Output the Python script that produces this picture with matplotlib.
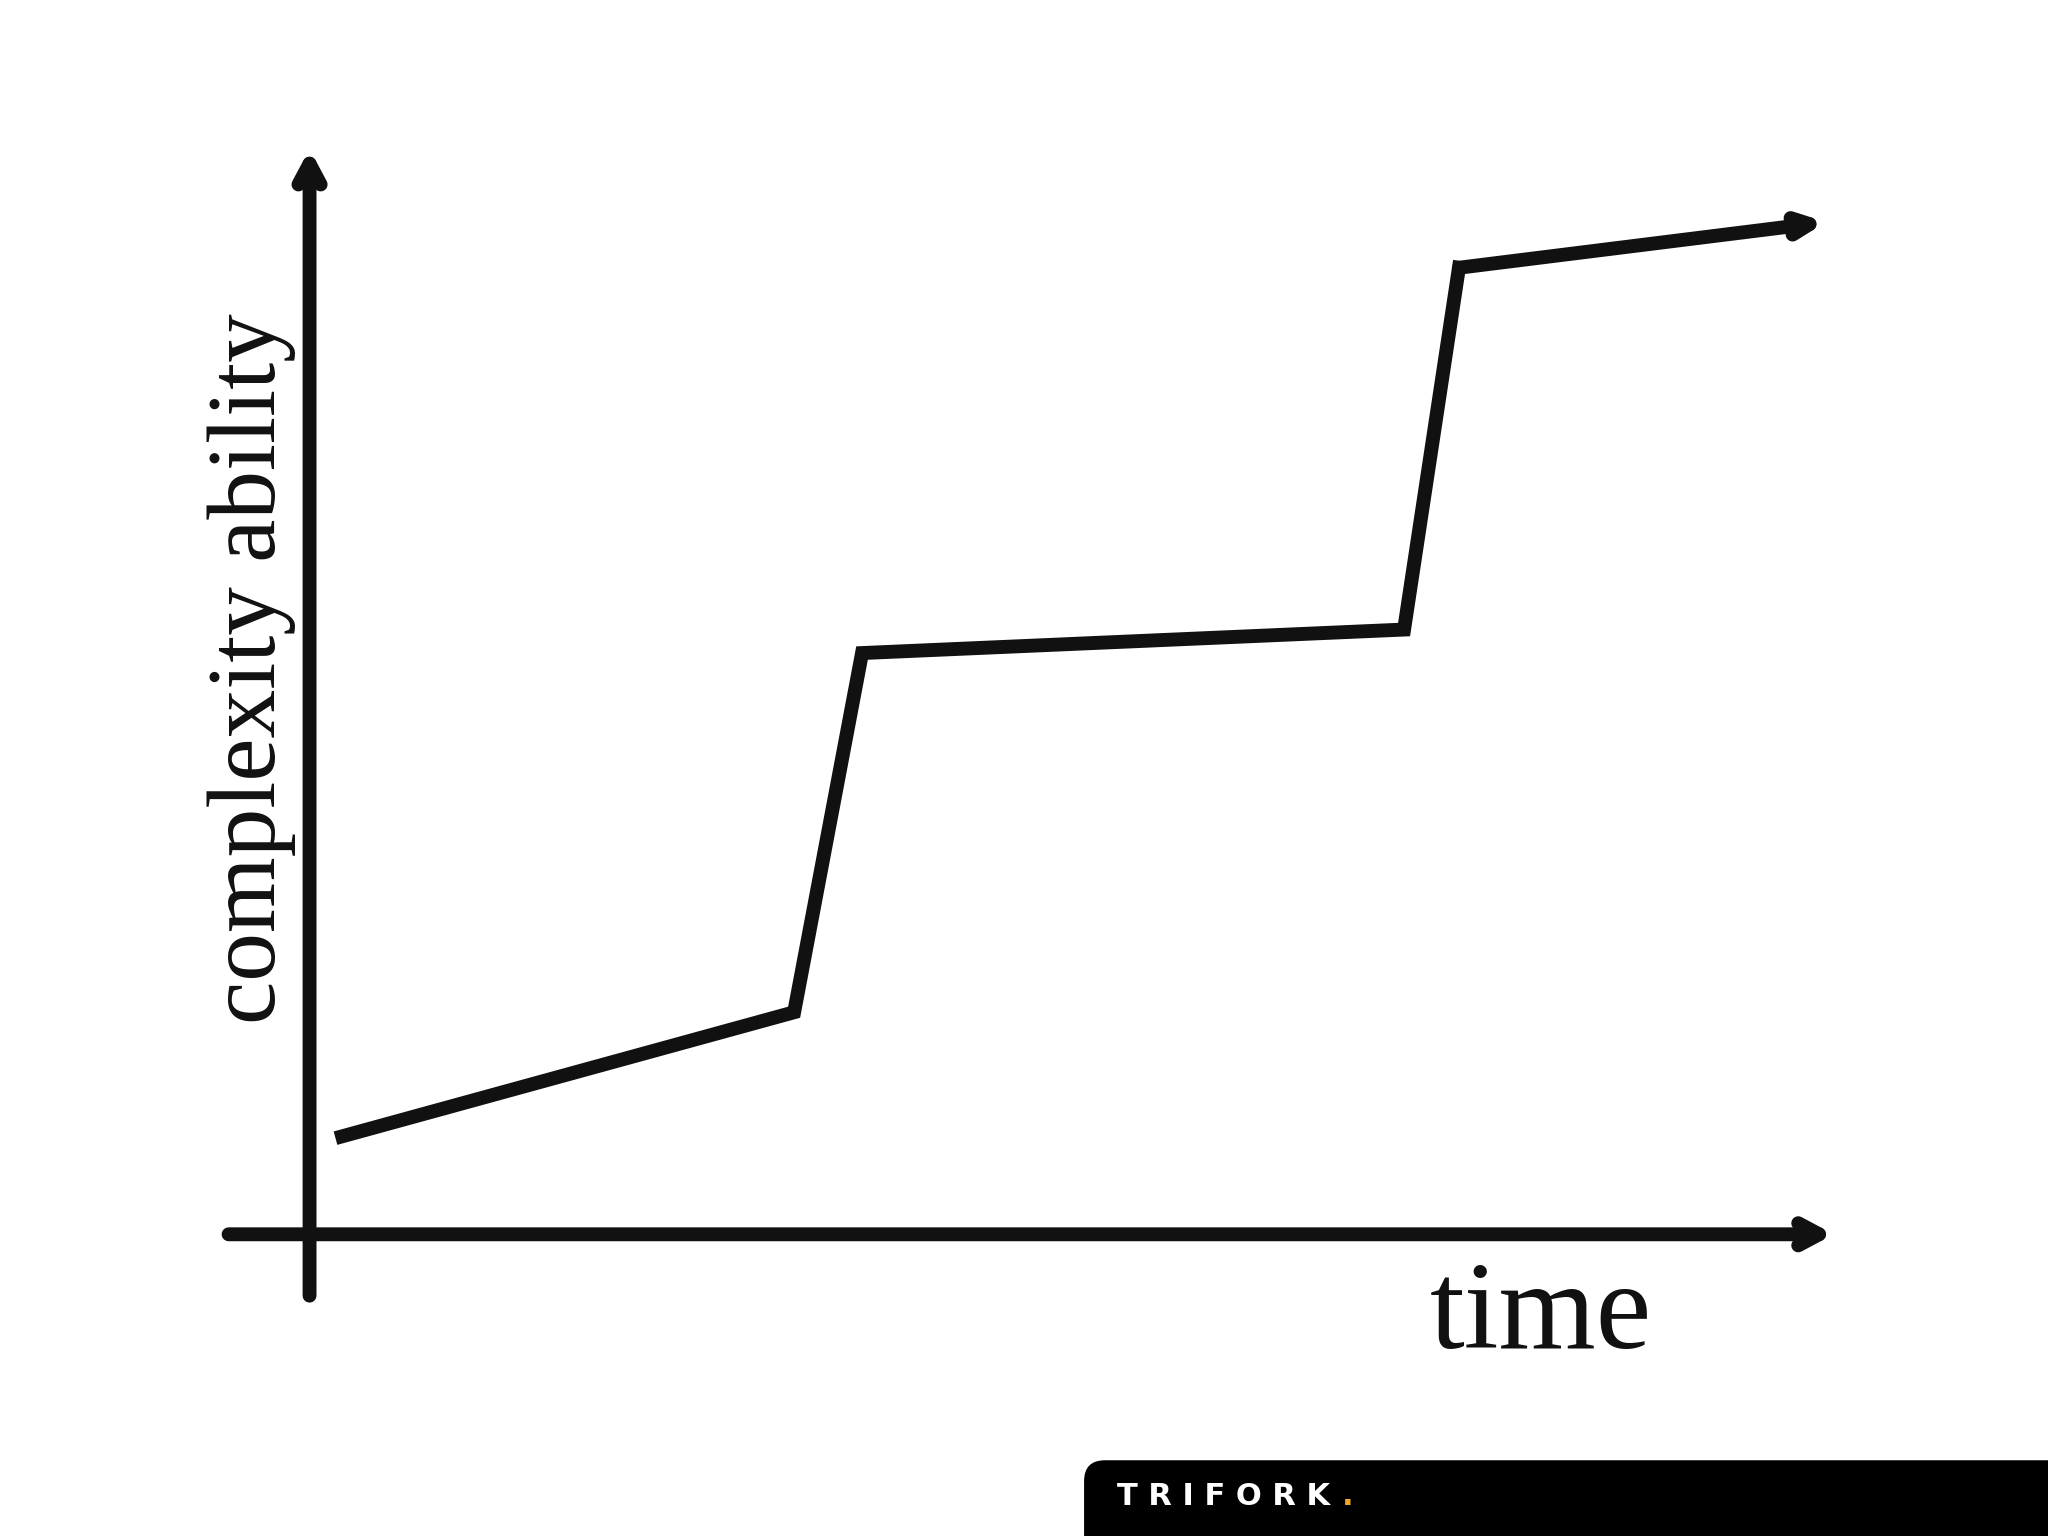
import matplotlib
matplotlib.use("Agg")
import matplotlib.pyplot as plt
from matplotlib.patches import FancyBboxPatch

# canvas units (reference layout, 1568 x 1176 grid)
W, H = 1568, 1176

# sketched curve: time vs complexity ability
time = [262, 608, 660, 1075, 1117, 1398]
ability = [870, 775, 500, 482, 205, 170]

fig = plt.figure(figsize=(20.48, 15.36), dpi=100)
ax = fig.add_axes([0, 0, 1, 1])
ax.set_xlim(0, W)
ax.set_ylim(H, 0)
ax.axis("off")

ink = "#111111"
lw = 10

# axes arrows
ax.annotate("", xy=(1404, 945), xytext=(175, 945),
            arrowprops=dict(arrowstyle="->,head_length=1.5,head_width=0.8", lw=lw, color=ink,
                            shrinkA=0, shrinkB=0))
ax.annotate("", xy=(237, 114), xytext=(237, 992),
            arrowprops=dict(arrowstyle="->,head_length=1.5,head_width=0.8", lw=lw, color=ink,
                            shrinkA=0, shrinkB=0))

# curve
ax.plot(time[:-1], ability[:-1], color=ink, lw=lw, solid_joinstyle="miter")
ax.annotate("", xy=(time[-1], ability[-1]), xytext=(time[-2], ability[-2]),
            arrowprops=dict(arrowstyle="-|>,head_length=1.3,head_width=0.6", lw=lw, color=ink,
                            shrinkA=0, shrinkB=0))

serif = ["Liberation Serif", "DejaVu Serif"]
ax.text(193, 512, "complexity ability", rotation=90, ha="center", va="center",
        fontsize=70, family=serif, color=ink)
ax.text(1180, 1032, "time", ha="center", va="baseline", fontsize=90, family=serif, color=ink)

# logo badge
ax.add_patch(FancyBboxPatch((830, 1118), 780, 80, boxstyle="round,pad=0,rounding_size=16",
                            facecolor="black", edgecolor="none", clip_on=False))
ax.text(855, 1146, "T R I F O R K", ha="left", va="center", fontsize=22, fontweight="bold",
        family="DejaVu Sans", color="white")
ax.text(1027, 1146, ".", ha="left", va="center", fontsize=22, fontweight="bold",
        family="DejaVu Sans", color="#f5a623")

fig.savefig("out.png", dpi=100, facecolor="white")
